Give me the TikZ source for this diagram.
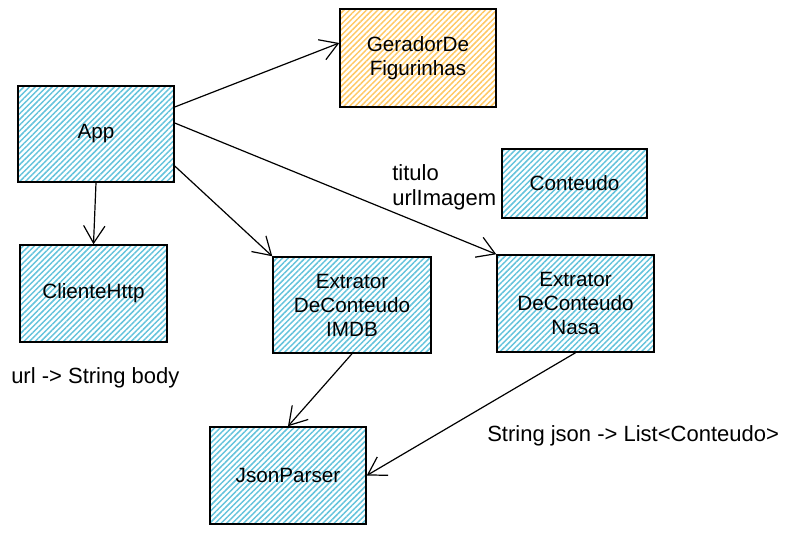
\documentclass[tikz,border=0pt]{standalone}
\usepackage{fontspec}
\setmainfont{Liberation Sans}
\usepackage{tikz}
\usetikzlibrary{arrows.meta,patterns.meta}
\definecolor{hatchblue}{RGB}{100,195,220}
\definecolor{hatchorange}{RGB}{255,200,100}
\tikzstyle{box}=[rectangle,draw=black,line width=1.1pt,align=center,font=\fontsize{15.5}{18}\selectfont,pattern={Lines[angle=45,distance=3pt,line width=1.1pt]},pattern color=hatchblue]
\tikzstyle{line} = [draw, line width=0.9pt, -{Straight Barb[length=13pt,width=16pt,line width=0.9pt]}]
\tikzstyle{label}=[font=\fontsize{16.5}{19}\selectfont,inner sep=0pt]

\begin{document}
\begin{tikzpicture}[x=0.75pt,y=-0.75pt]
     \useasboundingbox (0,0) rectangle (789,535);

        \node[box,minimum width=117pt,minimum height=72pt] (App) at (96,134) {App};
        \node[box,minimum width=117pt,minimum height=73.5pt,pattern color=hatchorange] (Gerador) at (418,58) {GeradorDe\\Figurinhas};
        \node[box,minimum width=109pt,minimum height=52pt] (Conteudo) at (574.5,183.5) {Conteudo};
        \node[box,minimum width=110pt,minimum height=72.75pt] (Cliente) at (93.5,293.5) {ClienteHttp};
        \node[box,minimum width=118.5pt,minimum height=72pt] (IMDB) at (352,305) {Extrator\\DeConteudo\\IMDB};
        \node[box,minimum width=117.75pt,minimum height=72.75pt] (Nasa) at (575.5,303.5) {Extrator\\DeConteudo\\Nasa};
        \node[box,minimum width=117pt,minimum height=72.75pt] (Json) at (288,475.5) {JsonParser};

    % labels
    \node[label,align=left,anchor=north west] (campos) at (392,164) {titulo\\urlImagem};
    \node[label,anchor=west] (clientelabel) at (11,378) {url -> String body};
    \node[label,anchor=west] (jsonlabel) at (487,436) {String json -> List<Conteudo>};

    % connectors
  \path [line] (App.east |- 0,107) -- (Gerador.west |- 0,43);
  \path [line] (App.east |- 0,123) -- (Nasa.north west);
  \path [line] (App.east |- 0,166) -- (IMDB.north west);
  \path [line] (App.south) -- (Cliente.north);
  \path [line] (IMDB.south) -- (Json.north);
  \path [line] (Nasa.south) -- (Json.east);

    \end{tikzpicture}
\end{document}
